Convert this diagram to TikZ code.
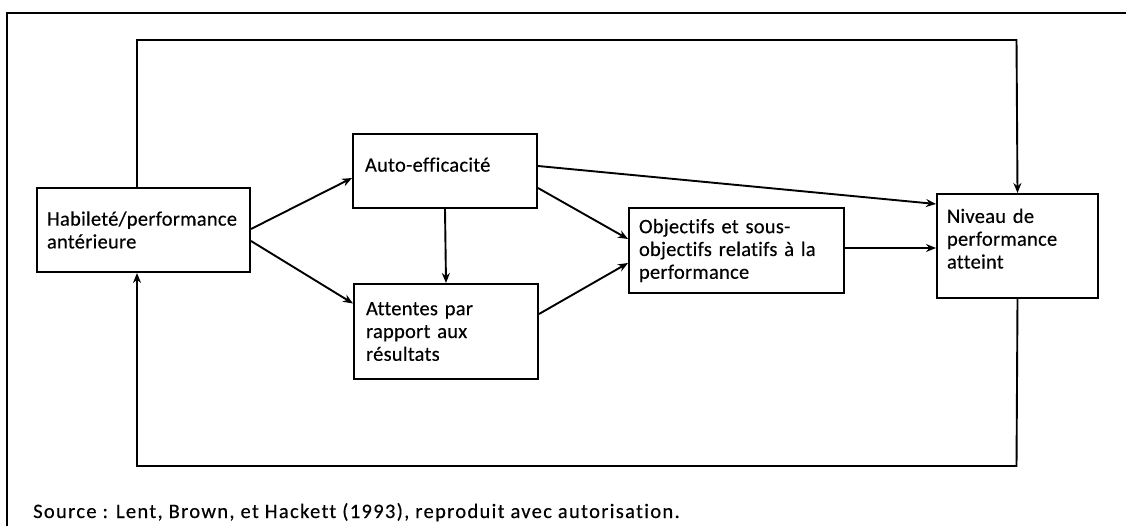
\documentclass[tikz,border=0pt]{standalone}
\usepackage{fontspec}
\setmainfont{Carlito}[Ligatures=NoCommon,FakeBold=0.35]
\usetikzlibrary{arrows.meta,calc}
\begin{document}
\begin{tikzpicture}[x=1pt,y=-1pt,
  box/.style={draw, line width=2pt, anchor=north west, inner xsep=10pt, inner ysep=0pt,
    align=left, font=\fontsize{20.5}{22.8}\selectfont\addfontfeatures{LetterSpace=1.2}},
  arr/.style={line width=1.9pt, -{Stealth[length=10pt,width=8pt]}},
  loop/.style={line width=1.9pt, -{Stealth[length=10pt,width=8pt]}},
  frame/.style={line width=1.6pt}]
\useasboundingbox (0,0) rectangle (1126,526);
\draw[frame] (7,526) -- (7,13) -- (1126,13);

\node[box, minimum width=213pt, minimum height=84pt, text width=193pt] (hab) at (36,187) {Habileté/performance\\antérieure};
\node[box, minimum width=183pt, minimum height=74pt, text width=160pt, inner xsep=12pt] (auto) at (352,133) {Auto-efficacité\\[-10pt]\mbox{}};
\node[box, minimum width=183pt, minimum height=95pt, text width=160pt, inner xsep=12pt] (att) at (353,283) {Attentes par\\rapport aux\\résultats};
\node[box, minimum width=215pt, minimum height=85pt, text width=195pt] (obj) at (628,207) {Objectifs et sous-\\objectifs relatifs à la\\performance};
\node[box, minimum width=161pt, minimum height=104pt, text width=141pt] (niv) at (936,193) {Niveau de\\performance\\atteint\\[-8pt]\mbox{}};

\draw[arr] ($(hab.east)+(0,-1)$) -- ($(auto.west)+(0,7)$);
\draw[arr] ($(hab.east)+(0,11)$) -- ($(att.west)+(0,-28)$);
\draw[arr] (auto.south) -- (att.north);
\draw[arr] ($(auto.east)+(0,17)$) -- ($(obj.west)+(0,-11.5)$);
\draw[arr] ($(att.east)+(0,-17.5)$) -- ($(obj.west)+(0,12.5)$);
\draw[arr] ($(auto.east)+(0,-5)$) -- ($(niv.west)+(0,-42)$);
\draw[arr] ($(obj.east)+(0,-2.5)$) -- ($(niv.west)+(0,2)$);

\coordinate (tl) at (137,40);
\coordinate (tr) at (1016.5,40);
\coordinate (bl) at (137,466);
\coordinate (br) at (1016.5,466);
\draw[loop] (hab.north -| tl) -- (tl) -- (tr) -- (niv.north);
\draw[loop] (niv.south) -- (br) -- (bl) -- (hab.south -| bl);

\node[anchor=base west, inner sep=0pt, font=\fontsize{20.5}{22}\selectfont\addfontfeatures{LetterSpace=6.5}] (src) at (33,518) {Source : Lent, Brown, et Hackett (1993), reproduit avec autorisation.};
\end{tikzpicture}
\end{document}
